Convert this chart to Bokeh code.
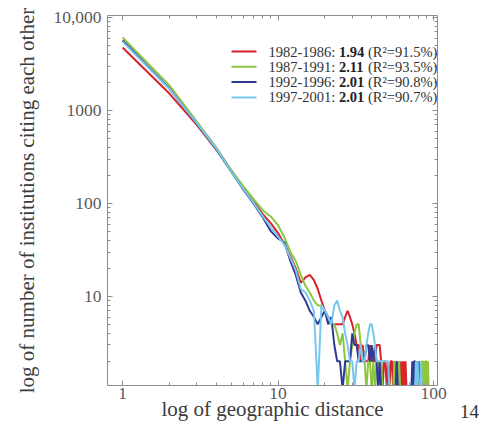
import math
from bokeh.plotting import figure
from bokeh.layouts import row
from bokeh.models import LogAxis, FixedTicker, CustomJSTickFormatter, Label, Range1d
from bokeh.embed import file_html
from bokeh.resources import INLINE

# ---------------- data ----------------
DIST = list(range(1, 96))

RED = [4750, 1520, 700, 380, 222, 146, 104, 76, 61, 48,
       36, 27, 20, 14, 16, 17, 15, 12, 9, 7,
       6, 5, 5, 5, 5, 5, 6, 7, 6, 5,
       4, 3, 3, 2, 3, 2, 2, 2, 3, 2,
       2, 2, 3, 3, 3, 2, 1, 2, 2, 1,
       2, 1, 2, 2, 1, 2, 1, 2, 1, 2,
       1, 2, 1, 2, 1, 2, 1, 1, 1, 1,
       1, 1, 1, 1, 1, 1, 1, 1, 1, 1,
       1, 1, 1, 1, 2, 1, 2, 1, 1, 1,
       1, 1, 1, 1, 1]

GREEN = [6100, 1860, 760, 400, 228, 152, 110, 84, 72, 58,
         43, 30, 24, 17, 13, 11, 9, 8, 8, 7,
         6, 5, 5, 4, 3, 4, 2, 1, 2, 3,
         4, 5, 5, 3, 2, 2, 1, 2, 2, 1,
         2, 1, 2, 2, 1, 2, 1, 1, 1, 1,
         1, 1, 1, 1, 1, 2, 1, 1, 1, 2,
         1, 1, 1, 1, 1, 1, 1, 1, 1, 1,
         1, 1, 1, 1, 1, 1, 1, 1, 1, 2,
         1, 2, 1, 2, 2, 1, 2, 1, 2, 2,
         1, 2, 1, 1, 1]

BLUE = [5650, 1720, 720, 385, 220, 140, 98, 70, 50, 42,
        38, 24, 17, 11, 9, 7, 6, 5, 6, 7,
        5, 6, 3, 2, 2, 1, 2, 2, 2, 4,
        3, 3, 2, 2, 2, 2, 3, 3, 2, 3,
        2, 3, 2, 1, 2, 1, 1, 1, 1, 1,
        1, 1, 1, 1, 1, 1, 1, 2, 1, 1,
        1, 1, 1, 1, 1, 1, 1, 1, 1, 1,
        1, 1, 2, 1, 2, 2, 1, 2, 1, 2,
        1, 1, 1, 1, 1, 1, 1, 1, 1, 1,
        1, 1, 1, 1, 1]

LIGHTBLUE = [5500, 1700, 730, 390, 220, 142, 100, 72, 55, 44,
             36, 26, 19, 12, 11, 9, 7, 1, 8, 7,
             6, 5, 8, 9, 7, 6, 4, 3, 2, 2,
             1, 2, 2, 3, 2, 2, 3, 4, 5, 5,
             4, 3, 2, 2, 2, 2, 2, 2, 2, 2,
             2, 1, 1, 1, 1, 1, 1, 1, 1, 1,
             1, 1, 1, 1, 1, 1, 1, 1, 1, 1,
             1, 1, 1, 1, 1, 1, 2, 1, 2, 1,
             1, 1, 2, 1, 1, 1, 1, 1, 1, 1,
             1, 1, 1, 1, 1]

SERIES = [RED, GREEN, BLUE, LIGHTBLUE]
PERIODS = ["1982-1986:", "1987-1991:", "1992-1996:", "1997-2001:"]
EXPONENTS = ["1.94", "2.11", "2.01", "2.01"]
R2 = ["(R\u00b2=91.5%)", "(R\u00b2=93.5%)", "(R\u00b2=90.8%)", "(R\u00b2=90.7%)"]
COLORS = ["#d8232a", "#8dc63f", "#2e3a94", "#78c8ee"]

X_TICKS = [1, 10, 100]
Y_TICKS = [1, 10, 100, 1000, 10000]
X_MINOR = [m * 10 ** k for k in range(0, 2) for m in range(2, 10)]
Y_MINOR = [m * 10 ** k for k in range(0, 4) for m in range(2, 10)]

X_TITLE = "log of geographic distance"
Y_TITLE = "log of number of institutions citing each other"
PAGE_NUMBER = "14"

# ---------------- layout ----------------
X0, X1 = 0.8, 106.0
Y0, Y1 = 1.1, 10500.0
FL, FT = 107, 15           # frame left / top (pixels)
FW, FH = 330, 370          # frame size
W, H = 450, 425
SIDE_W = 40                # strip to the right carrying the page number
FONT = "Liberation Serif"
AXIS_GREY = "#8c8c8c"
LEG_SIZE = 14.5

lx0, lx1 = math.log10(X0), math.log10(X1)
ly0, ly1 = math.log10(Y0), math.log10(Y1)


def px2x(px):
    return 10 ** (lx0 + (px - FL) / FW * (lx1 - lx0))


def py2y(py):
    return 10 ** (ly1 - (py - FT) / FH * (ly1 - ly0))


p = figure(width=W, height=H, x_axis_type="log", y_axis_type="log",
           x_range=Range1d(X0, X1), y_range=Range1d(Y0, Y1),
           output_backend="svg", toolbar_location=None,
           min_border_left=FL, min_border_top=FT,
           min_border_right=W - FL - FW,
           min_border_bottom=H - FT - FH)
p.outline_line_color = None
p.xgrid.visible = False
p.ygrid.visible = False
p.background_fill_color = "white"


def style_axis(ax):
    ax.axis_line_color = AXIS_GREY
    ax.major_tick_line_color = AXIS_GREY
    ax.minor_tick_line_color = AXIS_GREY
    ax.major_tick_in = 5
    ax.major_tick_out = 0
    ax.minor_tick_in = 3
    ax.minor_tick_out = 0
    ax.major_label_text_font = FONT
    ax.major_label_text_font_size = "17.5px"
    ax.major_label_text_color = "#5a5a5a"


xa = p.xaxis[0]
xa.ticker = FixedTicker(ticks=X_TICKS, minor_ticks=X_MINOR)
xa.formatter = CustomJSTickFormatter(code="return tick.toFixed(0);")
style_axis(xa)
xa.major_label_standoff = 2
xa.axis_label = X_TITLE
xa.axis_label_text_font = FONT
xa.axis_label_text_font_size = "21px"
xa.axis_label_text_font_style = "normal"
xa.axis_label_text_color = "#3c3c3c"
xa.axis_label_standoff = -5

ya = p.yaxis[0]
ya.ticker = FixedTicker(ticks=Y_TICKS, minor_ticks=Y_MINOR)
ya.formatter = CustomJSTickFormatter(
    code="return tick >= 10000 ? '10,000' : tick.toFixed(0);")
style_axis(ya)
ya.major_label_standoff = 6
ya.axis_label = Y_TITLE
ya.axis_label_text_font = FONT
ya.axis_label_text_font_size = "21px"
ya.axis_label_text_font_style = "normal"
ya.axis_label_text_color = "#3c3c3c"
ya.axis_label_standoff = 11

for side, ticks, minor in (("right", Y_TICKS, Y_MINOR), ("above", X_TICKS, X_MINOR)):
    ax = LogAxis(ticker=FixedTicker(ticks=ticks, minor_ticks=minor),
                 formatter=CustomJSTickFormatter(code="return '';"),
                 major_label_standoff=0)
    style_axis(ax)
    p.add_layout(ax, side)

for vals, col in zip(SERIES, COLORS):
    p.line(DIST, vals, line_color=col, line_width=2)

# legend (drawn manually to allow the bold exponent)
ROW0, ROW_STEP = 51, 15.3
TX0 = 268
W1 = 4.861 * LEG_SIZE      # "1982-1986: "
W2 = 2.0 * LEG_SIZE        # "1.94 " (bold)
for i in range(len(SERIES)):
    yy = py2y(ROW0 + ROW_STEP * i)
    p.segment(x0=[px2x(231)], y0=[yy], x1=[px2x(256)], y1=[yy],
              line_color=COLORS[i], line_width=2)
    p.add_layout(Label(x=px2x(TX0), y=yy, text=PERIODS[i], text_font=FONT,
                       text_font_size=f"{LEG_SIZE}px", text_baseline="middle",
                       text_color="#333333"))
    p.add_layout(Label(x=px2x(TX0 + W1), y=yy, text=EXPONENTS[i], text_font=FONT,
                       text_font_size=f"{LEG_SIZE}px", text_font_style="bold",
                       text_baseline="middle", text_color="#222222"))
    p.add_layout(Label(x=px2x(TX0 + W1 + W2), y=yy, text=R2[i], text_font=FONT,
                       text_font_size=f"{LEG_SIZE}px", text_baseline="middle",
                       text_color="#333333"))

# narrow strip on the right: the page number is its single (unlined) tick label
PAGE_TICK = 19
q = figure(width=SIDE_W, height=H, x_range=Range1d(0, SIDE_W), y_range=Range1d(0, 1),
           output_backend="svg", toolbar_location=None, y_axis_location=None,
           min_border_left=0, min_border_right=0,
           min_border_top=FT, min_border_bottom=H - FT - FH)
q.outline_line_color = None
q.xgrid.visible = False
q.ygrid.visible = False
qa = q.xaxis[0]
qa.ticker = FixedTicker(ticks=[PAGE_TICK], minor_ticks=[])
qa.formatter = CustomJSTickFormatter(code="return '%s';" % PAGE_NUMBER)
qa.axis_line_color = None
qa.major_tick_line_color = None
qa.minor_tick_line_color = None
qa.major_label_standoff = 13
qa.major_label_text_font = FONT
qa.major_label_text_font_size = "19px"
qa.major_label_text_color = "#333333"

layout = row(p, q)
open("out.html", "w").write(file_html(layout, INLINE))
